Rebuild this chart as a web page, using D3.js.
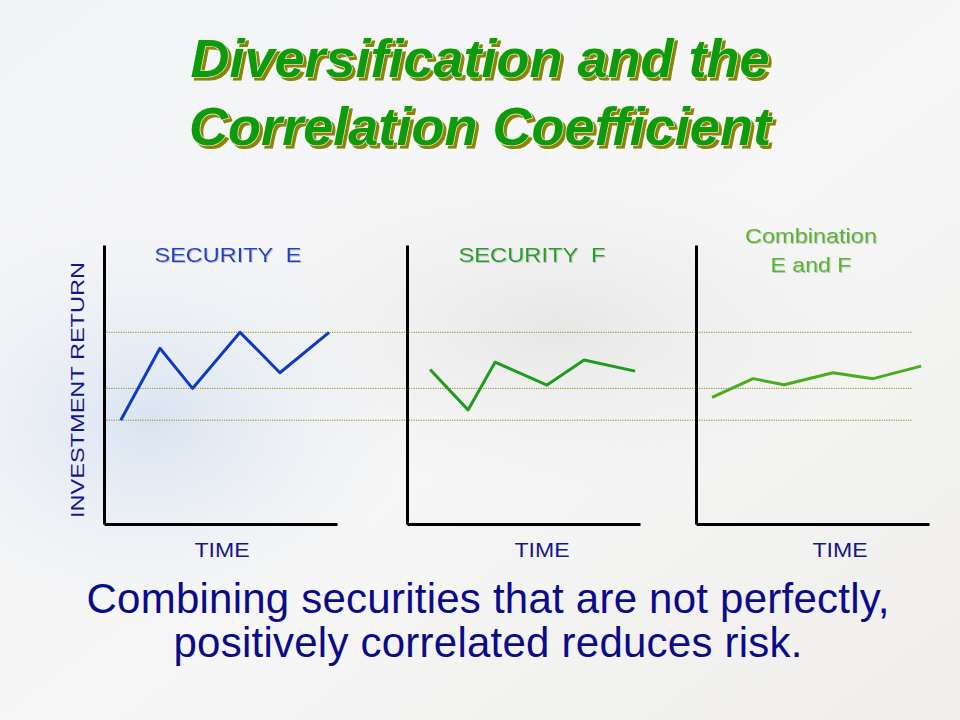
<!DOCTYPE html>
<html>
<head>
<meta charset="utf-8">
<script src="https://cdn.jsdelivr.net/npm/d3@7"></script>
<style>
  html, body { margin: 0; padding: 0; background: #f5f6f8; }
  svg { display: block; }
  text { font-family: "Liberation Sans", Arial, sans-serif; }
</style>
</head>
<body>
<script>
// ---------- DATA ----------
const titleLines = ["Diversification and the", "Correlation Coefficient"];
const captionLines = ["Combining securities that are not perfectly,", "positively correlated reduces risk."];
const panelTitles = [["SECURITY  E"], ["SECURITY  F"], ["Combination", "E and F"]];
const xAxisLabel = "TIME";
const yAxisLabel = "INVESTMENT RETURN";

// time positions (0-100 across each panel) and investment return (0-100 up each panel)
const timeE   = [7.2, 24.0, 38.0, 58.4, 75.5, 96.6];
const returnE = [37.2, 63.0, 48.6, 68.7, 54.2, 68.7];
const timeF   = [9.9, 26.2, 37.8, 60.1, 76.0, 97.9];
const returnF = [55.4, 40.9, 58.0, 49.8, 58.8, 54.8];
const timeEF   = [6.9, 24.5, 37.8, 58.8, 76.0, 96.6];
const returnEF = [45.4, 52.1, 49.9, 54.2, 52.1, 56.6];
const gridReturns = [37.2, 48.6, 68.7];

// ---------- LAYOUT ----------
const W = 960, H = 720;
const svg = d3.select("body").append("svg").attr("width", W).attr("height", H);

const defs = svg.append("defs");
const bg = defs.append("linearGradient").attr("id", "bg").attr("x1", 0).attr("y1", 0).attr("x2", 1).attr("y2", 1);
bg.append("stop").attr("offset", "0%").attr("stop-color", "#f3f4f7");
bg.append("stop").attr("offset", "55%").attr("stop-color", "#f6f6f6");
bg.append("stop").attr("offset", "100%").attr("stop-color", "#efeeec");
const rb = defs.append("radialGradient").attr("id", "blueGlow");
rb.append("stop").attr("offset", "0%").attr("stop-color", "#d6e2f1").attr("stop-opacity", 0.9);
rb.append("stop").attr("offset", "100%").attr("stop-color", "#e9eef5").attr("stop-opacity", 0);
const rg = defs.append("radialGradient").attr("id", "greyGlow");
rg.append("stop").attr("offset", "0%").attr("stop-color", "#e4e3e2").attr("stop-opacity", 0.8);
rg.append("stop").attr("offset", "100%").attr("stop-color", "#eeeeee").attr("stop-opacity", 0);

function shadowFilter(id, dx, dy, color) {
  const f = defs.append("filter").attr("id", id)
    .attr("x", "-10%").attr("y", "-30%").attr("width", "120%").attr("height", "160%");
  f.append("feOffset").attr("in", "SourceAlpha").attr("dx", dx).attr("dy", dy).attr("result", "off");
  f.append("feFlood").attr("flood-color", color).attr("result", "col");
  f.append("feComposite").attr("in", "col").attr("in2", "off").attr("operator", "in").attr("result", "sh");
  const m = f.append("feMerge");
  m.append("feMergeNode").attr("in", "sh");
  m.append("feMergeNode").attr("in", "SourceGraphic");
}
shadowFilter("titleShadow", 3, 3, "#8c8400");
shadowFilter("labelShadow", 1.2, 1.2, "#c4c4c4");

svg.append("rect").attr("width", W).attr("height", H).attr("fill", "url(#bg)");
svg.append("ellipse").attr("cx", 150).attr("cy", 420).attr("rx", 260).attr("ry", 200).attr("fill", "url(#blueGlow)");
svg.append("ellipse").attr("cx", 560).attr("cy", 330).attr("rx", 330).attr("ry", 160).attr("fill", "url(#greyGlow)");

// ---------- TITLE ----------
const titleBase = [77, 145];
titleLines.forEach((t, i) => {
  svg.append("text").attr("x", 480).attr("y", titleBase[i])
    .attr("text-anchor", "middle").attr("font-size", 54).attr("font-weight", "bold").attr("font-style", "italic")
    .attr("fill", "#0f9b0f").attr("stroke", "#eef0d8").attr("stroke-width", 1.2).attr("paint-order", "stroke")
    .attr("filter", "url(#titleShadow)")
    .attr("textLength", i === 0 ? 579 : 582).attr("lengthAdjust", "spacingAndGlyphs")
    .text(t);
});

// ---------- PANELS ----------
const y = d3.scaleLinear().domain([0, 100]).range([524, 245]);
const panelX = [104, 407, 696];
const panelW = 233;
const xScales = panelX.map(x0 => d3.scaleLinear().domain([0, 100]).range([x0, x0 + panelW]));

// dotted gridlines across panels
svg.append("g").selectAll("line").data(gridReturns).join("line")
  .attr("x1", panelX[0]).attr("x2", 912)
  .attr("y1", d => y(d)).attr("y2", d => y(d))
  .attr("stroke", "#8a8a1a").attr("stroke-width", 1).attr("stroke-dasharray", "1.2,1.2");

const series = [
  { t: timeE, r: returnE, color: "#0e3cc0" },
  { t: timeF, r: returnF, color: "#1f9b1f" },
  { t: timeEF, r: returnEF, color: "#4aae1c" }
];
const labelColors = ["#1e3fc4", "#22a022", "#56b52a"];

series.forEach((s, i) => {
  const x = xScales[i];
  const g = svg.append("g");
  g.append("g").attr("transform", `translate(${panelX[i]},0)`)
    .call(d3.axisLeft(y).tickValues([]).tickSizeOuter(0))
    .call(a => a.select(".domain").attr("stroke", "#000").attr("stroke-width", 3));
  g.append("g").attr("transform", `translate(0,${y(0)})`)
    .call(d3.axisBottom(x).tickValues([]).tickSizeOuter(0))
    .call(a => a.select(".domain").attr("stroke", "#000").attr("stroke-width", 3));
  const pts = s.t.map((tv, k) => [tv, s.r[k]]);
  g.append("path").datum(pts)
    .attr("d", d3.line().x(d => x(d[0])).y(d => y(d[1])))
    .attr("fill", "none").attr("stroke", s.color).attr("stroke-width", 3)
    .attr("stroke-linejoin", "round");
});

// panel titles
const titleCenters = [228, 532, 811];
panelTitles.forEach((lines, i) => {
  const base = lines.length === 1 ? [262] : [243, 272];
  const lens = lines.length === 1 ? [147] : [132, 81];
  lines.forEach((t, k) => {
    svg.append("text").attr("x", titleCenters[i]).attr("y", base[k])
      .attr("text-anchor", "middle").attr("font-size", 21).attr("fill", labelColors[i])
      .attr("filter", "url(#labelShadow)")
      .attr("xml:space", "preserve").style("white-space", "pre")
      .attr("textLength", lens[k]).attr("lengthAdjust", "spacingAndGlyphs")
      .text(t);
  });
});

// TIME labels
const timeCenters = [222, 542, 840];
timeCenters.forEach(cx => {
  svg.append("text").attr("x", cx).attr("y", 557)
    .attr("text-anchor", "middle").attr("font-size", 21).attr("fill", "#16168c")
    .attr("textLength", 55).attr("lengthAdjust", "spacingAndGlyphs")
    .text(xAxisLabel);
});

// y label
svg.append("text").attr("transform", "translate(84,390) rotate(-90)")
  .attr("text-anchor", "middle").attr("font-size", 18.5).attr("fill", "#16168c")
  .attr("textLength", 256).attr("lengthAdjust", "spacingAndGlyphs")
  .text(yAxisLabel);

// caption
const capBase = [613, 657];
const capLens = [803, 629];
captionLines.forEach((t, i) => {
  svg.append("text").attr("x", 488).attr("y", capBase[i])
    .attr("text-anchor", "middle").attr("font-size", 42).attr("fill", "#0b0b8a")
    .attr("textLength", capLens[i]).attr("lengthAdjust", "spacing")
    .text(t);
});
</script>
</body>
</html>
